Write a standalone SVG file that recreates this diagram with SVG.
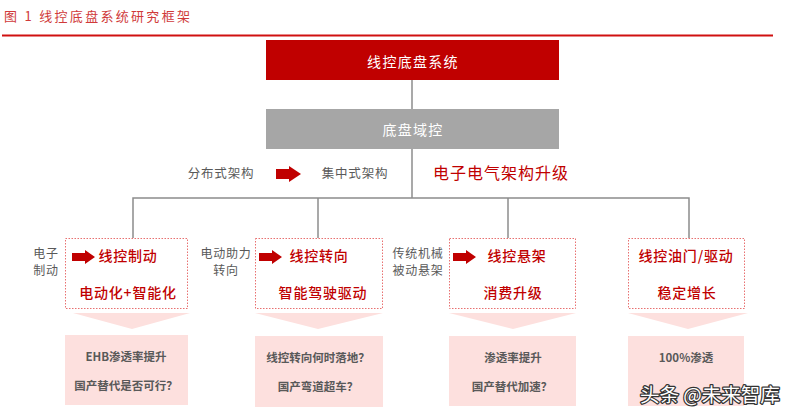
<svg xmlns="http://www.w3.org/2000/svg" width="800" height="416" viewBox="0 0 800 416">
<defs>
<style>
text{font-family:"Noto Sans CJK SC","Liberation Sans",sans-serif;}
.title{font-size:13px;fill:#d03a3a;letter-spacing:2.3px;}
.hdr{font-size:14px;fill:#ffffff;text-anchor:middle;letter-spacing:1.3px;}
.lbl{font-size:12px;fill:#595959;text-anchor:middle;letter-spacing:0.8px;}
.mid{font-size:12.5px;fill:#595959;text-anchor:middle;letter-spacing:0.8px;}
.big{font-size:16px;fill:#c00000;text-anchor:middle;letter-spacing:1px;}
.red{font-size:14px;fill:#c00000;text-anchor:middle;letter-spacing:0.8px;font-weight:500;}
.q{font-size:11.5px;fill:#595959;text-anchor:middle;font-weight:bold;}
.dbox{fill:#ffffff;stroke:#e87070;stroke-width:1;stroke-dasharray:1.5 1.5;}
.pink{fill:#fde0de;}
.ln{stroke:#8c8c8c;stroke-width:1.5;fill:none;}
.arr{fill:#c00000;}
.wm{font-size:19.5px;fill:#ffffff;stroke:#333333;stroke-width:2.5px;paint-order:stroke;stroke-linejoin:round;}
</style>
<path id="ar" d="M0,-4 H13 V-7 L23,0 L13,7 V4 H0 Z"/>
</defs>

<g id="title">
<text class="title" x="4" y="21">图 1  线控底盘系统研究框架</text>
<rect x="2" y="34.5" width="771" height="2" fill="#d01010"/>
</g>

<g id="connectors">
<line class="ln" x1="412" y1="80" x2="412" y2="110"/>
<line class="ln" x1="412" y1="149" x2="412" y2="198"/>
<polyline class="ln" points="133,238 133,198 689,198 689,238"/>
<line class="ln" x1="318" y1="198" x2="318" y2="238"/>
<line class="ln" x1="508" y1="198" x2="508" y2="238"/>
</g>

<g id="node-top">
<rect x="266" y="40" width="293" height="40" fill="#c00000"/>
<text class="hdr" x="413" y="67">线控底盘系统</text>
</g>

<g id="node-domain">
<rect x="266" y="109" width="293" height="40" fill="#a6a6a6"/>
<text class="hdr" x="413" y="135">底盘域控</text>
</g>

<g id="node-arch">
<text class="mid" x="221" y="178">分布式架构</text>
<path d="M276,169 H289 V166 L301,174 L289,182 V179 H276 Z" class="arr"/>
<text class="mid" x="355" y="178">集中式架构</text>
<text class="big" x="501" y="179">电子电气架构升级</text>
</g>

<g id="node-brake">
<text class="lbl" x="46" y="258">电子</text>
<text class="lbl" x="46" y="275">制动</text>
<rect class="dbox" x="65.5" y="238.5" width="122" height="70"/>
<use href="#ar" x="72" y="257" class="arr"/>
<text class="red" x="128" y="261">线控制动</text>
<text class="red" x="128" y="298">电动化+智能化</text>
<polygon class="pink" points="73,313 190,313 132,329"/>
<rect class="pink" x="65" y="335" width="123" height="70"/>
<text class="q" x="126" y="361">EHB渗透率提升</text>
<text class="q" x="126" y="390">国产替代是否可行？</text>
</g>

<g id="node-steer">
<text class="lbl" x="226" y="258">电动助力</text>
<text class="lbl" x="226" y="275">转向</text>
<rect class="dbox" x="255.5" y="238.5" width="127" height="70"/>
<use href="#ar" x="259" y="257" class="arr"/>
<text class="red" x="319" y="261">线控转向</text>
<text class="red" x="323" y="298">智能驾驶驱动</text>
<polygon class="pink" points="255,313 383,313 318,329"/>
<rect class="pink" x="255" y="336" width="128" height="71"/>
<text class="q" x="318" y="362">线控转向何时落地？</text>
<text class="q" x="318" y="391">国产弯道超车？</text>
</g>

<g id="node-susp">
<text class="lbl" x="418" y="258">传统机械</text>
<text class="lbl" x="418" y="275">被动悬架</text>
<rect class="dbox" x="449.5" y="238.5" width="126" height="70"/>
<use href="#ar" x="453" y="257" class="arr"/>
<text class="red" x="517" y="261">线控悬架</text>
<text class="red" x="513" y="298">消费升级</text>
<polygon class="pink" points="449,313 576,313 513,329"/>
<rect class="pink" x="449" y="336" width="127" height="70"/>
<text class="q" x="513" y="362">渗透率提升</text>
<text class="q" x="512" y="391">国产替代加速？</text>
</g>

<g id="node-throttle">
<rect class="dbox" x="628.5" y="238.5" width="116" height="70"/>
<text class="red" x="686" y="261">线控油门/驱动</text>
<text class="red" x="687" y="298">稳定增长</text>
<polygon class="pink" points="628,313 748,313 688,329"/>
<rect class="pink" x="628" y="336" width="116" height="70"/>
<text class="q" x="686" y="362">100%渗透</text>
</g>

<g id="watermark">
<text class="wm" x="640" y="402">头条 @未来智库</text>
</g>
</svg>
